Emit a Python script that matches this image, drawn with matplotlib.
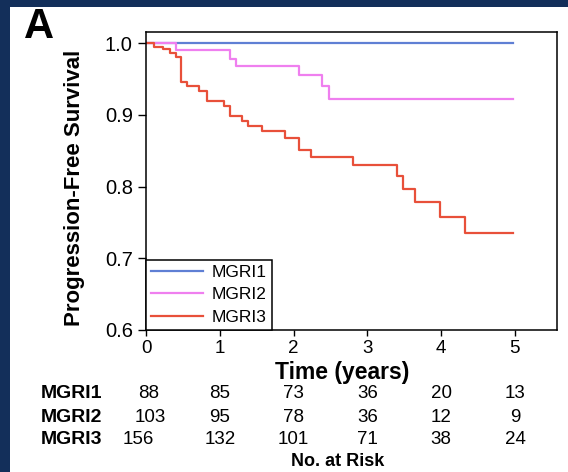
import matplotlib.pyplot as plt
from matplotlib.patches import Rectangle
from matplotlib.transforms import blended_transform_factory, offset_copy

plt.rcParams['font.family'] = ['Liberation Sans', 'DejaVu Sans']

# groups and curve colours
groups = ['MGRI1', 'MGRI2', 'MGRI3']
colors = ['#5f7fd4', '#ef7fef', '#e8503a']

# Kaplan-Meier steps: time (years) and progression-free survival
t1 = [0, 4.97]
s1 = [1.0, 1.0]

t2 = [0, 0.41, 1.14, 1.22, 2.07, 2.39, 2.48, 4.97]
s2 = [1.0, 0.990, 0.978, 0.969, 0.956, 0.940, 0.922, 0.922]

t3 = [0, 0.11, 0.23, 0.32, 0.41, 0.48, 0.55, 0.72, 0.82, 1.06, 1.14, 1.30,
      1.38, 1.57, 1.89, 2.07, 2.23, 2.81, 3.40, 3.48, 3.65, 3.98, 4.32, 4.97]
s3 = [1.0, 0.995, 0.992, 0.987, 0.981, 0.946, 0.941, 0.934, 0.920, 0.912,
      0.899, 0.892, 0.884, 0.877, 0.868, 0.851, 0.842, 0.830, 0.815, 0.797,
      0.778, 0.758, 0.735, 0.735]

# number at risk table
years = [0, 1, 2, 3, 4, 5]
risk1 = [88, 85, 73, 36, 20, 13]
risk2 = [103, 95, 78, 36, 12, 9]
risk3 = [156, 132, 101, 71, 38, 24]

W, H = 568, 472
fig = plt.figure(figsize=(W / 100, H / 100), dpi=100, facecolor='#132f5a')

# white panel on the navy background
fig.patches.append(Rectangle((10 / W, 0), 1, 1 - 7 / H, transform=fig.transFigure,
                             facecolor='white', edgecolor='none', zorder=-10))

ax = fig.add_axes([146 / W, 1 - 330 / H, (557 - 146) / W, (330 - 32) / H])

for t, s, c, g in zip([t1, t2, t3], [s1, s2, s3], colors, groups):
    ax.step(t, s, where='post', color=c, lw=1.6, label=g)

ax.set_xlim(0, 5.57)
ax.set_ylim(0.6, 1.0158)
ax.set_xticks(years)
ax.set_yticks([0.6, 0.7, 0.8, 0.9, 1.0])
ax.set_yticklabels(['0.6', '0.7', '0.8', '0.9', '1.0'])
ax.tick_params(axis='y', length=6, width=1, pad=3.5, labelsize=14.5)
ax.tick_params(axis='x', length=4.5, width=1, pad=2.5, labelsize=13.5)
for sp in ax.spines.values():
    sp.set_linewidth(1.1)

leg = ax.legend(loc='lower left', bbox_to_anchor=(0, 0), borderaxespad=0,
                fancybox=False, edgecolor='black', framealpha=1, fontsize=12.5,
                handlelength=3.0, handletextpad=0.5, labelspacing=0.42,
                borderpad=0.3)
leg.get_frame().set_linewidth(1.1)

fig.text(75 / W, 1 - 188 / H, 'Progression-Free Survival', rotation=90,
         ha='center', va='center', fontsize=16, fontweight='bold')
fig.text(342 / W, 1 - 372 / H, 'Time (years)', ha='center', va='center',
         fontsize=16.5, fontweight='bold')
fig.text(24 / W, 1 - 38 / H, 'A', ha='left', va='baseline', fontsize=30,
         fontweight='bold')

# risk table under the x axis
trans = blended_transform_factory(ax.transData, fig.transFigure)
row_y = [394, 417, 439]
first_shift = [3, 4, -8]
for g, risk, py, dx in zip(groups, [risk1, risk2, risk3], row_y, first_shift):
    fig.text(41 / W, 1 - py / H, g, ha='left', va='center', fontsize=14,
             fontweight='bold')
    for yr, n in zip(years, risk):
        tr = trans
        if yr == 0:
            tr = offset_copy(trans, fig=fig, x=dx, y=0, units='dots')
        ax.text(yr, 1 - py / H, str(n), transform=tr, ha='center', va='center',
                fontsize=13.5)

fig.text(338 / W, 1 - 461 / H, 'No. at Risk', ha='center', va='center',
         fontsize=13, fontweight='bold')

fig.savefig('out.png', dpi=100, facecolor=fig.get_facecolor())
